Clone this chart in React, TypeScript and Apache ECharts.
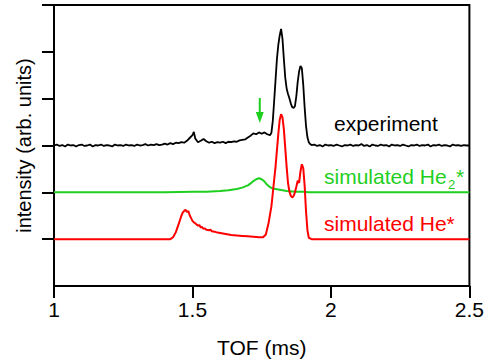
import React, { useEffect, useRef } from "react";
import * as echarts from "echarts";

const xTicks = [1, 1.5, 2, 2.5];
const yTickValues = [1, 2, 3, 4, 5, 6];

const experiment: [number, number][] = [
  [1.0, 3.0], [1.01, 3.02], [1.02, 2.99], [1.03, 3.01], [1.04, 2.98], [1.05, 3.02], [1.06, 3.0], [1.07, 3.01],
  [1.08, 2.98], [1.09, 3.01], [1.1, 3.02], [1.11, 2.99], [1.12, 3.0], [1.13, 3.02], [1.14, 2.98], [1.15, 3.01],
  [1.16, 3.0], [1.17, 3.02], [1.18, 2.99], [1.19, 3.01], [1.2, 3.0], [1.21, 2.98], [1.22, 3.02], [1.23, 3.0],
  [1.24, 3.01], [1.25, 2.99], [1.26, 3.02], [1.27, 3.0], [1.28, 3.01], [1.29, 2.99], [1.3, 3.02], [1.31, 3.0],
  [1.32, 3.01], [1.33, 3.03], [1.34, 3.0], [1.35, 3.02], [1.36, 3.01], [1.37, 3.03], [1.38, 3.01], [1.39, 3.02],
  [1.4, 3.04], [1.41, 3.02], [1.42, 3.05], [1.43, 3.03], [1.44, 3.06], [1.45, 3.05], [1.46, 3.07], [1.47, 3.06],
  [1.48, 3.1], [1.49, 3.16], [1.5, 3.22], [1.505, 3.29], [1.51, 3.15], [1.52, 3.07], [1.53, 3.1], [1.54, 3.14],
  [1.55, 3.09], [1.56, 3.06], [1.57, 3.08], [1.58, 3.05], [1.59, 3.07], [1.6, 3.06], [1.61, 3.08], [1.62, 3.05],
  [1.63, 3.08], [1.64, 3.07], [1.65, 3.09], [1.66, 3.08], [1.67, 3.11], [1.68, 3.12], [1.69, 3.13], [1.7, 3.17],
  [1.71, 3.21], [1.72, 3.26], [1.73, 3.24], [1.74, 3.28], [1.75, 3.25], [1.76, 3.28], [1.77, 3.24], [1.78, 3.22],
  [1.785, 3.27], [1.79, 3.52], [1.795, 3.95], [1.8, 4.4], [1.805, 4.85], [1.81, 5.15], [1.815, 5.35], [1.82, 5.49],
  [1.825, 5.28], [1.83, 4.85], [1.835, 4.45], [1.84, 4.22], [1.845, 4.1], [1.85, 4.01], [1.855, 3.9], [1.86, 3.82],
  [1.865, 3.8], [1.87, 3.84], [1.875, 4.05], [1.88, 4.36], [1.885, 4.58], [1.89, 4.7], [1.895, 4.65], [1.9, 4.3],
  [1.905, 3.82], [1.91, 3.42], [1.915, 3.18], [1.92, 3.07], [1.925, 3.03], [1.93, 3.01],
  [1.94, 3.02], [1.95, 2.99], [1.96, 3.01], [1.97, 2.98], [1.98, 3.02], [1.99, 3.0], [2.0, 3.01], [2.01, 2.99],
  [2.02, 3.02], [2.03, 3.0], [2.04, 2.98], [2.05, 3.01], [2.06, 3.0], [2.07, 3.02], [2.08, 2.99], [2.09, 3.01],
  [2.1, 3.0], [2.11, 3.03], [2.12, 2.99], [2.13, 3.01], [2.14, 2.98], [2.15, 3.02], [2.16, 3.0], [2.17, 2.99],
  [2.18, 3.02], [2.19, 3.0], [2.2, 3.01], [2.21, 2.98], [2.22, 3.02], [2.23, 3.0], [2.24, 3.01], [2.25, 2.99],
  [2.26, 3.02], [2.27, 3.0], [2.28, 2.98], [2.29, 3.01], [2.3, 3.0], [2.31, 3.02], [2.32, 2.99], [2.33, 3.01],
  [2.34, 3.0], [2.35, 3.02], [2.36, 2.98], [2.37, 3.01], [2.38, 3.0], [2.39, 3.02], [2.4, 2.99], [2.41, 3.01],
  [2.42, 3.0], [2.43, 2.98], [2.44, 3.02], [2.45, 3.0], [2.46, 3.01], [2.47, 2.99], [2.48, 3.01], [2.49, 3.0],
  [2.5, 3.0],
];

const simHe2: [number, number][] = [
  [1.0, 2.0], [1.4, 2.0], [1.5, 2.01], [1.55, 2.015], [1.6, 2.03], [1.63, 2.045], [1.66, 2.07], [1.68, 2.1],
  [1.7, 2.15], [1.71, 2.19], [1.72, 2.24], [1.73, 2.28], [1.74, 2.3], [1.75, 2.28], [1.76, 2.23], [1.77, 2.16],
  [1.78, 2.11], [1.79, 2.08], [1.8, 2.07], [1.82, 2.05], [1.84, 2.03], [1.86, 2.02], [1.88, 2.01], [1.9, 2.01],
  [1.92, 2.0], [2.5, 2.0],
];

const simHe: [number, number][] = [
  [1.0, 1.0], [1.42, 1.0], [1.43, 1.04], [1.44, 1.15], [1.45, 1.32], [1.46, 1.5], [1.465, 1.57], [1.47, 1.6],
  [1.475, 1.63], [1.48, 1.58], [1.485, 1.6], [1.49, 1.51], [1.495, 1.45], [1.5, 1.39], [1.505, 1.36], [1.51, 1.34],
  [1.515, 1.31], [1.52, 1.29], [1.525, 1.3], [1.53, 1.25], [1.535, 1.26], [1.54, 1.22], [1.545, 1.23], [1.55, 1.2],
  [1.56, 1.19], [1.565, 1.2], [1.57, 1.17], [1.58, 1.16], [1.59, 1.14], [1.6, 1.13], [1.61, 1.12], [1.62, 1.11],
  [1.63, 1.1], [1.64, 1.09], [1.66, 1.08], [1.68, 1.07], [1.7, 1.06], [1.72, 1.05], [1.74, 1.04], [1.755, 1.04],
  [1.765, 1.1], [1.775, 1.35], [1.785, 1.7], [1.79, 1.98], [1.8, 2.55], [1.81, 3.25], [1.815, 3.55], [1.82, 3.67],
  [1.825, 3.6], [1.83, 3.35], [1.835, 2.95], [1.84, 2.55], [1.845, 2.2], [1.85, 2.02], [1.855, 1.93], [1.86, 1.89],
  [1.865, 1.92], [1.87, 2.0], [1.875, 2.12], [1.88, 2.25], [1.885, 2.2], [1.89, 2.45], [1.895, 2.6], [1.9, 2.52],
  [1.905, 2.15], [1.91, 1.6], [1.915, 1.2], [1.92, 1.03], [1.93, 1.0], [2.5, 1.0],
];

const arrowAt: [number, number] = [1.743, 3.75];

const FONT = "'Liberation Sans', Arial, Helvetica, sans-serif";
const GREEN = "#1fcf1f";
const RED = "#ff0000";

export default function App() {
  const ref = useRef<HTMLDivElement>(null);
  useEffect(() => {
    if (!ref.current) return;
    const chart = echarts.init(ref.current, undefined, { renderer: "svg" });
    chart.setOption({
      animation: false,
      grid: {
        left: 54, right: 15, top: 5, bottom: 78,
        show: true, borderColor: "#000", borderWidth: 2, backgroundColor: "transparent",
      },
      xAxis: {
        type: "value", min: xTicks[0], max: xTicks[xTicks.length - 1], interval: 0.5,
        name: "TOF (ms)", nameLocation: "middle", nameGap: 51,
        nameTextStyle: { fontFamily: FONT, fontSize: 21, color: "#000" },
        axisLine: { show: true, lineStyle: { color: "#000", width: 2 } },
        axisTick: { show: true, inside: false, length: 12, lineStyle: { color: "#000", width: 2 } },
        axisLabel: { fontFamily: FONT, fontSize: 21, color: "#000", margin: 13 },
        splitLine: { show: false },
      },
      yAxis: {
        type: "value", min: 0, max: 6, interval: 1,
        name: "intensity (arb. units)", nameLocation: "middle", nameGap: 20,
        nameTextStyle: { fontFamily: FONT, fontSize: 20, color: "#000" },
        axisLine: { show: true, lineStyle: { color: "#000", width: 2 } },
        axisTick: { show: true, inside: false, length: 12, customValues: yTickValues, lineStyle: { color: "#000", width: 2 } },
        axisLabel: { show: false },
        splitLine: { show: false },
      },
      series: [
        {
          type: "line", data: experiment, showSymbol: false, symbol: "none",
          lineStyle: { color: "#000", width: 1.8 }, z: 3,
        },
        {
          type: "line", data: simHe2, showSymbol: false, symbol: "none",
          lineStyle: { color: GREEN, width: 2 }, z: 2,
          markPoint: {
            symbol: "path://M3,0 L5,0 L5,14 L8,14 L4,25 L0,14 L3,14 Z",
            symbolSize: [8, 25],
            label: { show: false },
            itemStyle: { color: GREEN },
            data: [{ coord: arrowAt }],
          },
        },
        {
          type: "line", data: simHe, showSymbol: false, symbol: "none",
          lineStyle: { color: RED, width: 2 }, z: 2,
        },
      ],
      graphic: [
        { type: "text", left: 334, top: 113, style: { text: "experiment", fill: "#000", font: `21px ${FONT}` } },
        { type: "text", left: 324, top: 166, style: { text: "simulated He", fill: GREEN, font: `21px ${FONT}` } },
        { type: "text", left: 448, top: 178, style: { text: "2", fill: GREEN, font: `13px ${FONT}` } },
        { type: "text", left: 456, top: 166, style: { text: "*", fill: GREEN, font: `21px ${FONT}` } },
        { type: "text", left: 324, top: 213, style: { text: "simulated He*", fill: RED, font: `21px ${FONT}` } },
      ],
    });
    return () => chart.dispose();
  }, []);
  return <div ref={ref} style={{ position: "absolute", left: 0, top: 0, width: 487, height: 364 }} />;
}
